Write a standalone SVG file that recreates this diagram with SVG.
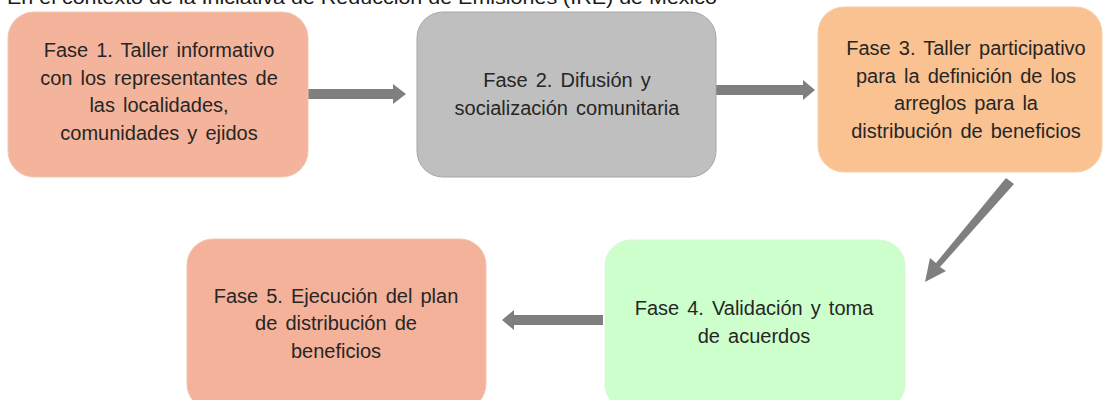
<svg xmlns="http://www.w3.org/2000/svg" width="1104" height="400" viewBox="0 0 1104 400">
<style>
.t{font-family:"Liberation Sans",Arial,sans-serif;font-size:20px;word-spacing:2.5px;fill:#262626;text-anchor:middle}
.cap{font-family:"Liberation Sans",Arial,sans-serif;font-size:19px;fill:#1a1a1a}
.arr{fill:#7f7f7f}
</style>
<rect width="1104" height="400" fill="#ffffff"/>
<text class="cap" x="7" y="4" textLength="710" lengthAdjust="spacingAndGlyphs">En el contexto de la Iniciativa de Reducción de Emisiones (IRE) de México</text>
<g id="connectors">
<polygon class="arr" points="308,89 393,89 393,84 406,94 393,104 393,99 308,99"/>
<polygon class="arr" points="716,85 803,85 803,80 815,90 803,100 803,95 716,95"/>
<polygon class="arr" points="1014,184 1006,178 936,263 930,258 925,282 946,271 940,267"/>
<polygon class="arr" points="603,315 514,315 514,310 502,320 514,330 514,325 603,325"/>
</g>
<g id="node1">
<rect x="8" y="12" width="300" height="165" rx="26" fill="#f4b49b" stroke="#f0c6b4" stroke-width="1"/>
<text class="t" x="159" y="57">Fase 1. Taller informativo</text>
<text class="t" x="159" y="85">con los representantes de</text>
<text class="t" x="159" y="112">las localidades,</text>
<text class="t" x="159" y="140">comunidades y ejidos</text>
</g>
<g id="node2">
<rect x="417" y="12" width="299" height="165" rx="26" fill="#bfbfbf" stroke="#a6a6a6" stroke-width="1"/>
<text class="t" x="567" y="87">Fase 2. Difusión y</text>
<text class="t" x="567" y="115">socialización comunitaria</text>
</g>
<g id="node3">
<rect x="818" y="7" width="284" height="165" rx="26" fill="#fac191" stroke="#f9cfa8" stroke-width="1"/>
<text class="t" x="966" y="55">Fase 3. Taller participativo</text>
<text class="t" x="966" y="83">para la definición de los</text>
<text class="t" x="966" y="110">arreglos para la</text>
<text class="t" x="966" y="138">distribución de beneficios</text>
</g>
<g id="node4">
<rect x="605" y="240" width="300" height="170" rx="26" fill="#ccffcc" stroke="#d9f7d9" stroke-width="1"/>
<text class="t" x="754" y="315">Fase 4. Validación y toma</text>
<text class="t" x="754" y="343">de acuerdos</text>
</g>
<g id="node5">
<rect x="187" y="239" width="299" height="171" rx="26" fill="#f4b29b" stroke="#f0c6b4" stroke-width="1"/>
<text class="t" x="336" y="303">Fase 5. Ejecución del plan</text>
<text class="t" x="336" y="330">de distribución de</text>
<text class="t" x="336" y="358">beneficios</text>
</g>
</svg>
